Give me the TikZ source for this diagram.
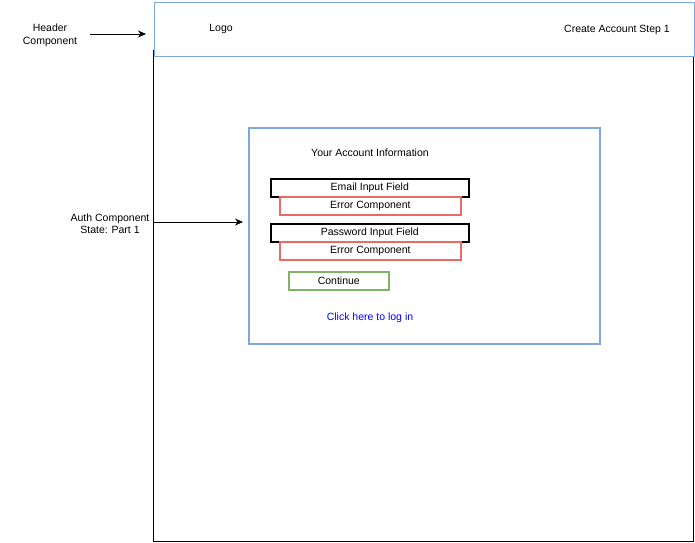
\documentclass[tikz,border=0pt]{standalone}
\usepackage{fontspec}
\setmainfont{Liberation Sans}
\usetikzlibrary{arrows.meta}
\definecolor{dblue}{HTML}{7EA6E0}
\definecolor{dred}{HTML}{EA6B66}
\definecolor{dgreen}{HTML}{82B366}
\definecolor{linkblue}{HTML}{0000FF}
\begin{document}
\begin{tikzpicture}[x=1pt,y=-1pt,
  lbl/.style={font=\fontsize{10.5}{12.5}\selectfont, align=center, inner sep=0pt},
  txt/.style={lbl, yshift=-1.5pt},
  bluebox/.style={draw=dblue, line width=1.8pt},
  inputbox/.style={draw=black, line width=1.6pt},
  errbox/.style={draw=dred, line width=1.6pt},
  okbox/.style={draw=dgreen, line width=1.6pt},
  arr/.style={-{Stealth[length=8pt,width=7pt]}, line width=0.8pt}]
\useasboundingbox (0,0) rectangle (695,542);
% outer page
\draw[line width=0.9pt] (153.5,50) -- (153.5,541.5) -- (693.5,541.5) -- (693.5,50);
% header
\node[bluebox, fill=white, minimum width=540pt, minimum height=54pt, anchor=north west, inner sep=0pt] (header) at (153.5,1.5) {};
\node[txt] (logo) at (221,27) {Logo};
\node[txt] (step) at (617,28) {Create Account Step 1};
% header label
\node[txt] (hlabel) at (50,34) {Header\\Component};
\coordinate (hstart) at (90,34);
\coordinate (hend) at (146,34);
\draw[arr] (hstart) -- (hend);
% auth box
\node[bluebox, minimum width=351pt, minimum height=216pt, anchor=north west, inner sep=0pt] (auth) at (248,127) {};
\node[txt] (title) at (370,151) {Your Account Information};
\node[inputbox, minimum width=198pt, minimum height=18pt, anchor=north west, inner sep=0pt, lbl] (email) at (270,178) {\raisebox{-1pt}{Email Input Field}};
\node[errbox, minimum width=181pt, minimum height=18pt, anchor=north west, inner sep=0pt, lbl] (err1) at (279,196) {\raisebox{-1pt}{Error Component}};
\node[inputbox, minimum width=198pt, minimum height=18pt, anchor=north west, inner sep=0pt, lbl] (pass) at (270,223) {\raisebox{-1pt}{Password Input Field}};
\node[errbox, minimum width=181pt, minimum height=18pt, anchor=north west, inner sep=0pt, lbl] (err2) at (279,241) {\raisebox{-1pt}{Error Component}};
\node[okbox, minimum width=100pt, minimum height=18pt, anchor=north west, inner sep=0pt, lbl] (cont) at (288,271) {\raisebox{-1pt}{Continue}};
\node[txt, text=linkblue] (login) at (370,316) {Click here to log in};
% auth label
\node[txt] (alabel) at (110,222) {Auth Component\\State: Part 1};
\coordinate (astart) at (153.5,222);
\coordinate (aend) at (243,222);
\draw[arr] (astart) -- (aend);
\end{tikzpicture}
\end{document}
